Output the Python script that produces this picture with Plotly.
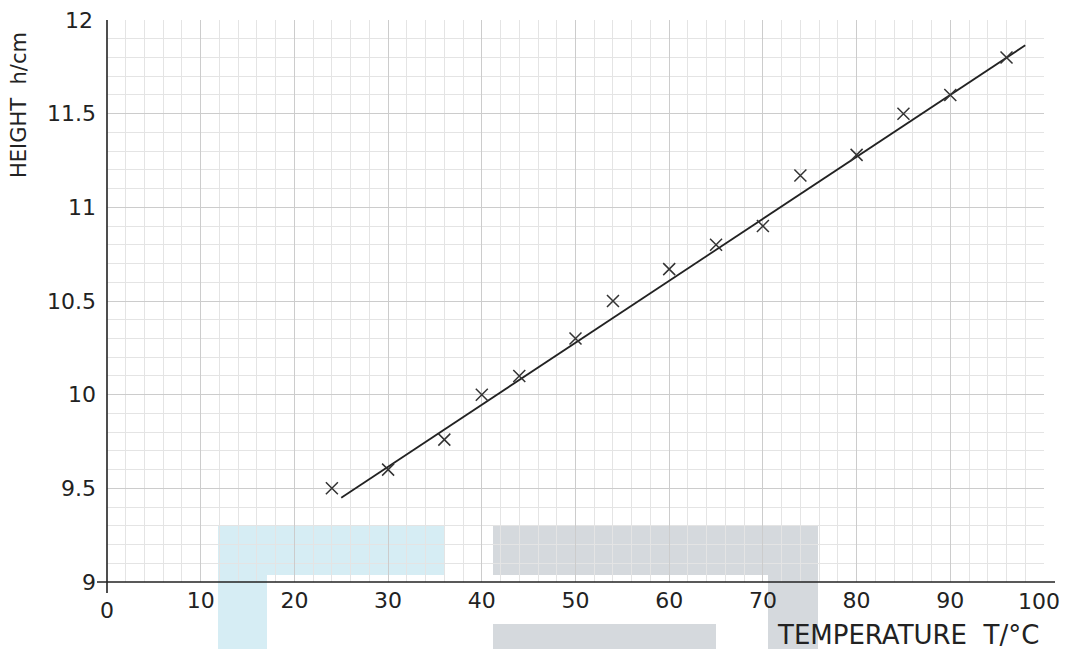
import plotly.graph_objects as go

# Data
temperature = [24, 30, 36, 40, 44, 50, 54, 60, 65, 70, 74, 80, 85, 90, 96]
height = [9.50, 9.60, 9.76, 10.00, 10.10, 10.30, 10.50, 10.67, 10.80, 10.90, 11.17, 11.28, 11.50, 11.60, 11.80]
fit_T = [25, 98]
fit_h = [9.45, 11.865]

x_ticks = [0, 10, 20, 30, 40, 50, 60, 70, 80, 90, 100]
x_ticktext = ["0", "10", "20", "30", "40", "50", "60", "70", "80", "90", "100"]
y_ticks = [9, 9.5, 10, 10.5, 11, 11.5, 12]
y_ticktext = ["9", "9.5", "10", "10.5", "11", "11.5", "12"]

# page body has an 8px margin; figure sized so the page does not overflow horizontally
OFF = 8
W, H = 1054, 641
ML, MT = 107 - OFF, 20 - OFF
PLOT_R, PLOT_B = 1044 - OFF, 582 - OFF
MR, MB = W - PLOT_R, H - PLOT_B
PW = W - ML - MR
PH = H - MT - MB
XMIN, XMAX = 0, 100
YMIN, YMAX = 9, 12

def px(xs):  # screen pixel -> paper
    return (xs - OFF - ML) / PW

def py(ys):
    return 1 - (ys - OFF - MT) / PH

FONT = "DejaVu Sans"
INK = "#222222"
TICK_SIZE = 22

fig = go.Figure()
fig.add_trace(go.Scatter(x=fit_T, y=fit_h, mode="lines",
                         line=dict(color=INK, width=1.8), hoverinfo="skip", showlegend=False))
fig.add_trace(go.Scatter(x=temperature, y=height, mode="markers",
                         marker=dict(symbol="x-thin", size=12, line=dict(color="#333333", width=1.5)),
                         showlegend=False))

shapes = []
blue = "#d6edf4"
gray = "#d5d9dd"
for (x0, x1, y0, y1, c) in [
    (218, 444, 526, 575, blue),
    (218, 267, 575, 660, blue),
    (493, 818, 526, 575, gray),
    (768, 818, 575, 660, gray),
    (493, 716, 624, 660, gray),
]:
    shapes.append(dict(type="rect", xref="paper", yref="paper", x0=px(x0), x1=px(x1),
                       y0=py(y1), y1=py(y0), fillcolor=c, line=dict(width=0), layer="below"))
# axis lines (extend slightly beyond origin like hand-drawn graph paper)
shapes.append(dict(type="line", xref="paper", yref="paper", x0=px(97), x1=px(1055), y0=0, y1=0,
                   line=dict(color=INK, width=1.6)))
shapes.append(dict(type="line", xref="paper", yref="paper", x0=0, x1=0, y0=py(593), y1=1,
                   line=dict(color=INK, width=1.6)))

tf = dict(family=FONT, size=TICK_SIZE, color=INK)
annotations = [
    # edge tick labels (drawn as annotations so they are not hidden at the figure edge)
    dict(text=x_ticktext[0], xref="x", yref="paper", x=x_ticks[0], y=py(610), showarrow=False,
         font=tf, xanchor="center", yanchor="middle"),
    dict(text=x_ticktext[-1], xref="x", yref="paper", x=x_ticks[-1], y=py(601), showarrow=False,
         font=tf, xanchor="center", yanchor="middle", xshift=-5),
    dict(text=y_ticktext[-1], xref="paper", yref="y", x=px(95), y=y_ticks[-1], showarrow=False,
         font=tf, xanchor="right", yanchor="middle"),
    dict(text="HEIGHT  h/cm", xref="paper", yref="paper", x=px(19), y=py(105), textangle=-90,
         showarrow=False, font=dict(family=FONT, size=21, color=INK), xanchor="center", yanchor="middle"),
    dict(text="TEMPERATURE  T/°C", xref="paper", yref="paper", x=px(908), y=py(635),
         showarrow=False, font=dict(family=FONT, size=26, color=INK), xanchor="center", yanchor="middle"),
]

fig.update_layout(
    width=W, height=H,
    margin=dict(l=ML, r=MR, t=MT, b=MB),
    paper_bgcolor="white", plot_bgcolor="rgba(0,0,0,0)",
    shapes=shapes, annotations=annotations,
    font=dict(family=FONT, color=INK),
)
fig.update_xaxes(range=[XMIN, XMAX], tickvals=x_ticks[1:-1], ticktext=x_ticktext[1:-1], ticks="",
                 showline=False, zeroline=False,
                 showgrid=True, gridcolor="#cccccc", gridwidth=1,
                 minor=dict(dtick=2, showgrid=True, gridcolor="#e4e4e4", gridwidth=1),
                 tickfont=tf, ticklabelstandoff=3)
fig.update_yaxes(range=[YMIN, YMAX], tickvals=y_ticks[:-1], ticktext=y_ticktext[:-1], ticks="",
                 showline=False, zeroline=False, showgrid=True, gridcolor="#cccccc", gridwidth=1,
                 minor=dict(dtick=0.1, showgrid=True, gridcolor="#e4e4e4", gridwidth=1),
                 tickfont=tf, ticklabelstandoff=10)

fig.write_html("out.html")
